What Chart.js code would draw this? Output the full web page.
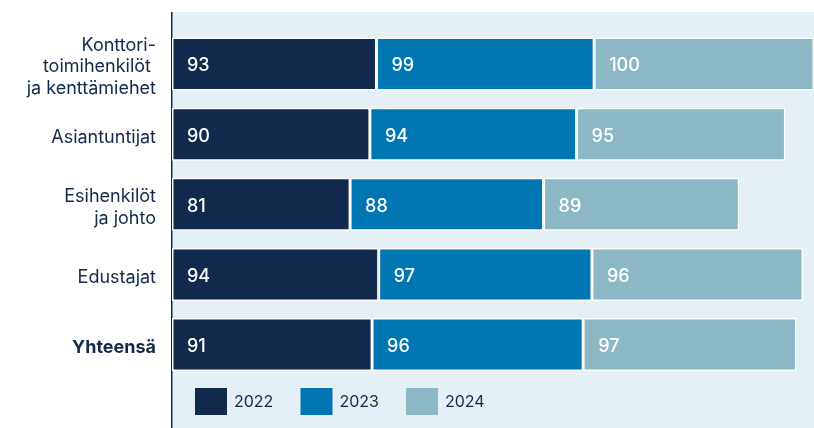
<!DOCTYPE html>
<html>
<head>
<meta charset="utf-8">
<script src="https://cdn.jsdelivr.net/npm/chart.js@4.4.1/dist/chart.umd.min.js"></script>
<style>
  html, body { margin: 0; padding: 0; background: #ffffff; }
  #wrap { width: 814px; height: 428px; position: relative; }
</style>
</head>
<body>
<div id="wrap"><canvas id="c" width="814" height="428"></canvas></div>
<script>
const categories = [
  ['Konttori-', 'toimihenkilöt ', 'ja kenttämiehet'],
  'Asiantuntijat',
  ['Esihenkilöt', 'ja johto'],
  'Edustajat',
  'Yhteensä'
];
const seriesNames = ['2022', '2023', '2024'];
const values2022 = [93, 90, 81, 94, 91];
const values2023 = [99, 94, 88, 97, 96];
const values2024 = [100, 95, 89, 96, 97];

const colors = ['#122a4d', '#0076b2', '#8cb8c5'];
const textColor = '#13294b';
const bgColor = '#e5f0f6';
const FONT = 'Inter, "Open Sans", sans-serif';

const bgPlugin = {
  id: 'bgPlugin',
  beforeDraw(chart) {
    const { ctx, chartArea } = chart;
    ctx.save();
    ctx.fillStyle = bgColor;
    ctx.fillRect(chartArea.left, 12, chart.width - chartArea.left, chart.height - 12);
    ctx.strokeStyle = textColor;
    ctx.lineWidth = 1.5;
    ctx.beginPath();
    ctx.moveTo(chartArea.left - 0.25, 12);
    ctx.lineTo(chartArea.left - 0.25, chart.height);
    ctx.stroke();
    ctx.restore();
  },
  afterDatasetsDraw(chart) {
    const { ctx } = chart;
    ctx.save();
    ctx.fillStyle = '#ffffff';
    ctx.font = '500 18px ' + FONT;
    ctx.textAlign = 'left';
    ctx.textBaseline = 'middle';
    chart.data.datasets.forEach((ds, di) => {
      const meta = chart.getDatasetMeta(di);
      meta.data.forEach((bar, i) => {
        const left = Math.min(bar.x, bar.base);
        ctx.fillText(String(ds.data[i]), left + 15, bar.y + 2);
      });
    });
    // legend
    const { chartArea } = chart;
    let x = chartArea.left + 23;
    const y = 388;
    ctx.font = '400 16px ' + FONT;
    chart.data.datasets.forEach((ds) => {
      ctx.fillStyle = ds.backgroundColor;
      ctx.fillRect(x, y, 32, 27);
      ctx.fillStyle = textColor;
      ctx.fillText(ds.label, x + 39, y + 14);
      x += 105.5;
    });
    ctx.restore();
  }
};

new Chart(document.getElementById('c'), {
  type: 'bar',
  data: {
    labels: categories,
    datasets: [
      { label: seriesNames[0], data: values2022, backgroundColor: colors[0] },
      { label: seriesNames[1], data: values2023, backgroundColor: colors[1] },
      { label: seriesNames[2], data: values2024, backgroundColor: colors[2] }
    ].map(d => Object.assign(d, {
      borderColor: '#ffffff',
      borderWidth: 1.5,
      borderSkipped: false,
      barPercentage: 0.755,
      categoryPercentage: 1.0
    }))
  },
  options: {
    indexAxis: 'y',
    responsive: false,
    animation: false,
    devicePixelRatio: 1,
    layout: { padding: { top: 29, bottom: 47, left: 0, right: 0 } },
    plugins: {
      legend: { display: false },
      tooltip: { enabled: false }
    },
    scales: {
      x: {
        stacked: true,
        display: false,
        min: 0,
        max: 292,
        grid: { display: false }
      },
      y: {
        stacked: true,
        grid: { display: false, drawTicks: false },
        border: { display: false },
        afterFit(scale) { scale.width = 172; },
        ticks: {
          autoSkip: false,
          padding: 16,
          labelOffset: 3,
          color: textColor,
          font: (ctx) => ({
            family: FONT,
            size: 18,
            weight: ctx.index === 4 ? '700' : '400',
            lineHeight: 1.2
          })
        }
      }
    }
  },
  plugins: [bgPlugin]
});
</script>
</body>
</html>
